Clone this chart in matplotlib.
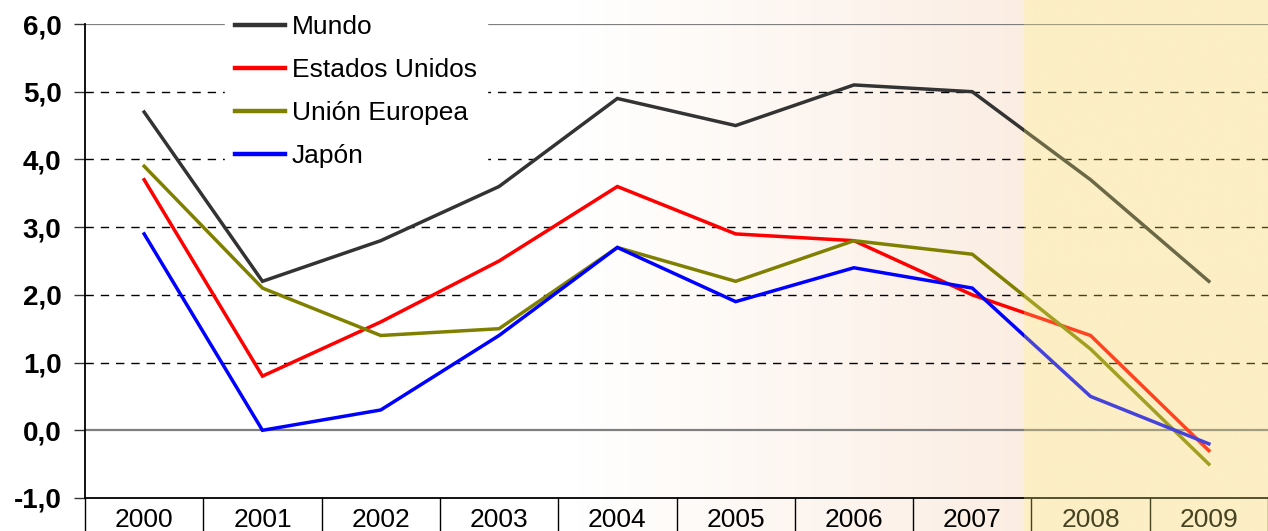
import numpy as np
import matplotlib
matplotlib.use("Agg")
import matplotlib.pyplot as plt
from matplotlib.patches import Rectangle
import matplotlib.transforms as mtransforms

plt.rcParams['font.family'] = ['Liberation Sans', 'DejaVu Sans']

years = ["2000", "2001", "2002", "2003", "2004", "2005", "2006", "2007", "2008", "2009"]
mundo = [4.7, 2.2, 2.8, 3.6, 4.9, 4.5, 5.1, 5.0, 3.7, 2.2]
estados_unidos = [3.7, 0.8, 1.6, 2.5, 3.6, 2.9, 2.8, 2.0, 1.4, -0.3]
union_europea = [3.9, 2.1, 1.4, 1.5, 2.7, 2.2, 2.8, 2.6, 1.2, -0.5]
japon = [2.9, 0.0, 0.3, 1.4, 2.7, 1.9, 2.4, 2.1, 0.5, -0.2]
series_names = ["Mundo", "Estados Unidos", "Unión Europea", "Japón"]
series_colors = ["#333333", "#FF0000", "#808000", "#0000FF"]
y_ticks = [-1, 0, 1, 2, 3, 4, 5, 6]

W, H = 1268, 531
fig = plt.figure(figsize=(W / 100, H / 100), dpi=100)

# background gradient
bg = fig.add_axes([0, 0, 1, 1], zorder=0)
xs = np.linspace(0, 1, 600)
t = np.clip((xs * W - 580) / (1030 - 580), 0, 1)
c0 = np.array([255, 255, 255]) / 255
c1 = np.array([251, 237, 226]) / 255
grad = (1 - t)[:, None] * c0 + t[:, None] * c1
bg.imshow(grad[None, :, :], aspect='auto', extent=[0, 1, 0, 1])
bg.set_xlim(0, 1); bg.set_ylim(0, 1)
bg.axis('off')

left = 85 / W
bottom = (H - 498) / H
top = (H - 24) / H
ax = fig.add_axes([left, bottom, 1 - left, top - bottom], zorder=1)
ax.set_facecolor('none')

x = np.arange(len(years))
ax.set_xlim(-0.5, len(years) - 0.5)
ax.set_ylim(-1, 6)

# grid lines
for v in [1, 2, 3, 4, 5]:
    ax.axhline(v, color='black', lw=1.0, ls=(0, (6, 5)), zorder=1)
for v in [0, 6]:
    ax.axhline(v, color='#7f7f7f', lw=1.6, zorder=1)

for vals, name, col in zip([mundo, estados_unidos, union_europea, japon], series_names, series_colors):
    ax.plot(x, vals, color=col, lw=2.5, label=name, zorder=3, solid_joinstyle='miter')

for s in ['top', 'right']:
    ax.spines[s].set_visible(False)
ax.spines['left'].set_color('black')
ax.spines['left'].set_linewidth(1.3)
ax.spines['bottom'].set_color('black')
ax.spines['bottom'].set_linewidth(1.3)

ax.set_yticks(y_ticks)
ax.set_yticklabels([f"{v:.1f}".replace('.', ',') for v in y_ticks], fontsize=20, fontweight='bold')
ax.tick_params(axis='y', length=8, width=1.0, pad=9, color='#333333')
ax.set_xticks(x)
ax.set_xticklabels(years, fontsize=19)
ax.tick_params(axis='x', length=0, pad=7)

# category table borders
trans = mtransforms.blended_transform_factory(ax.transData, ax.transAxes)
ext = -(H - 498) / (498 - 24)
for b in np.arange(-0.5, len(years) - 0.4, 1.0):
    ax.plot([b, b], [0, ext - 0.01], transform=trans, color='black', lw=1.0, clip_on=False, zorder=2)

leg = ax.legend(loc='upper left', bbox_to_anchor=(225 / W, 1 - 5 / H), bbox_transform=fig.transFigure,
                borderaxespad=0, frameon=True, fancybox=False, fontsize=19, handlelength=1.9,
                handletextpad=0.25, labelspacing=0.72, borderpad=0.38)
leg.get_frame().set_facecolor('white')
leg.get_frame().set_edgecolor('white')
leg.get_frame().set_alpha(1)
for ln in leg.get_lines():
    ln.set_linewidth(3.2)

# forecast shading overlay
fig.add_artist(Rectangle((1024 / W, 0), 1 - 1024 / W, 1, transform=fig.transFigure,
                         facecolor='#FFF27A', alpha=0.28, edgecolor='none', zorder=5))

fig.savefig('out.png', dpi=100)
